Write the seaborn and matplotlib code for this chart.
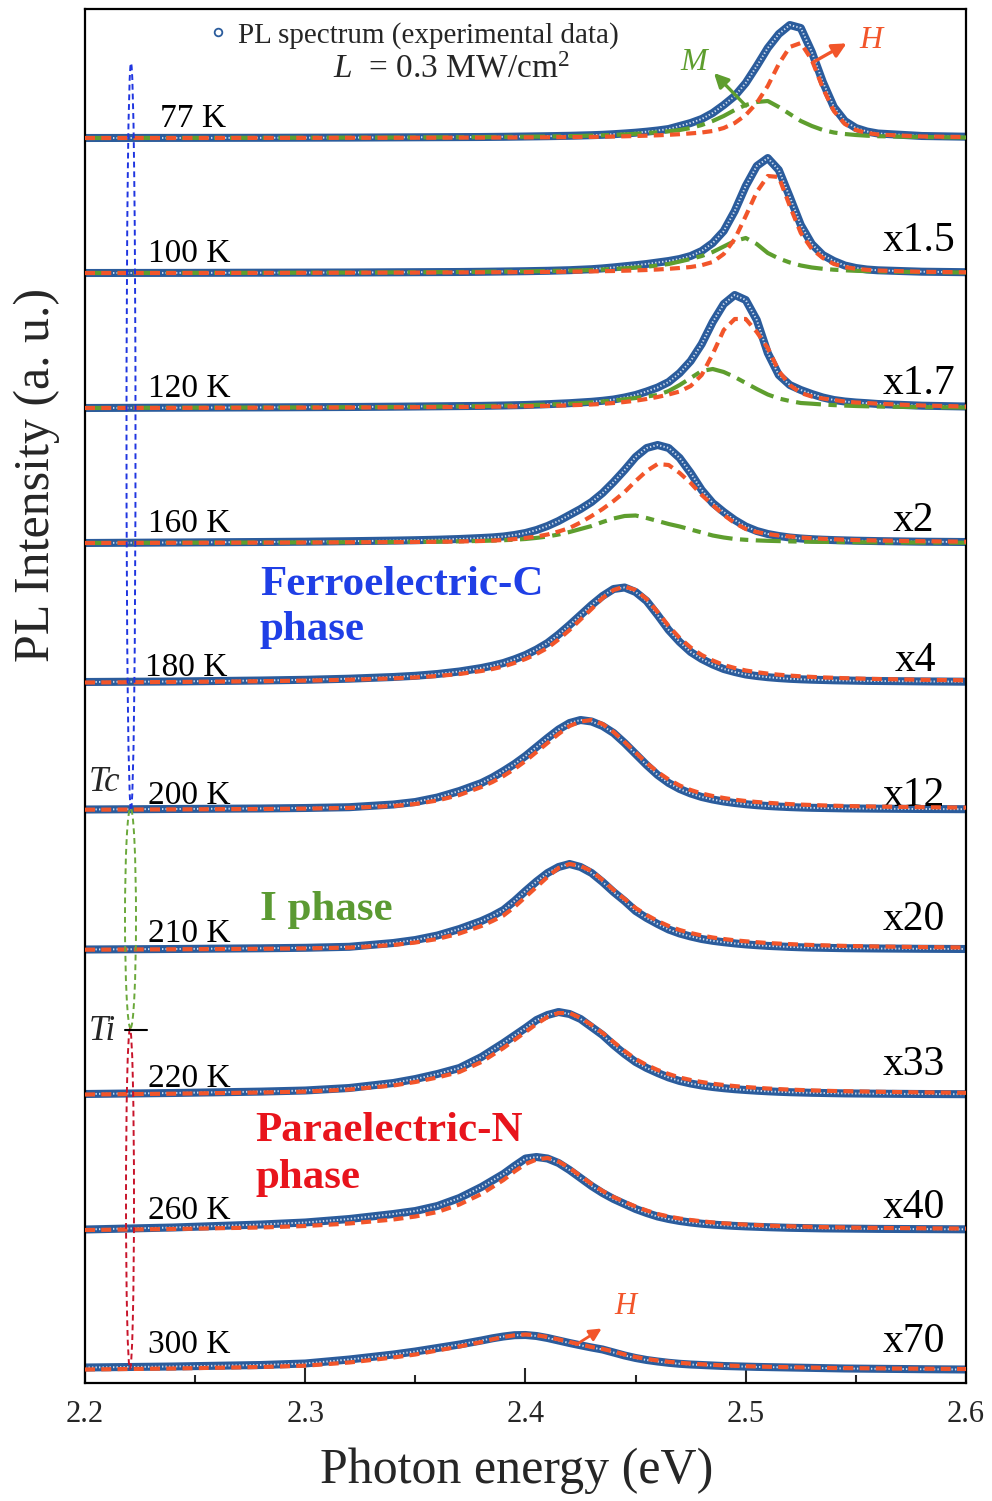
import numpy as np
import matplotlib
matplotlib.use("Agg")
import matplotlib.pyplot as plt
import seaborn as sns
from matplotlib.patches import Ellipse

# ---------------- data ----------------
energy = [2.20, 2.24, 2.28, 2.30, 2.32, 2.34, 2.35, 2.36, 2.37, 2.38,
          2.385, 2.39, 2.395, 2.40, 2.405, 2.41, 2.415, 2.42, 2.425, 2.43,
          2.435, 2.44, 2.445, 2.45, 2.455, 2.46, 2.465, 2.47, 2.475, 2.48, 2.485, 2.49, 2.495,
          2.50, 2.505, 2.51, 2.515, 2.52, 2.525, 2.53, 2.535, 2.54, 2.545, 2.55, 2.555, 2.56,
          2.58, 2.60]

temperatures = ["77 K", "100 K", "120 K", "160 K", "180 K", "200 K", "210 K", "220 K", "260 K", "300 K"]
scale_labels = ["", "x1.5", "x1.7", "x2", "x4", "x12", "x20", "x33", "x40", "x70"]

pl_77 = [0, 0.1, 0.2, 0.3, 0.4, 0.6, 0.7, 0.8, 0.9, 1.0,
         1.1, 1.2, 1.35, 1.5, 1.65, 1.8, 2.0, 2.2, 2.5, 2.8,
         3.2, 3.8, 4.5, 5.3, 6.3, 7.5, 9, 12, 15, 19, 25, 33, 42, 55, 72, 90, 104, 113, 110, 86,
         56, 31, 17, 10, 6.5, 4.5,
         2, 1.3]
h_77 = [0, 0, 0.1, 0.1, 0.2, 0.2, 0.3, 0.3, 0.4, 0.4,
        0.45, 0.5, 0.55, 0.6, 0.65, 0.7, 0.8, 0.9, 1.0, 1.1,
        1.3, 1.5, 1.7, 2.0, 2.3, 2.7, 3.2, 3.8, 4.6, 5.5, 7, 10, 15, 23, 35, 52, 74, 91, 95, 78,
        50, 27, 14, 8, 5, 3.5,
        1.5, 1]
m_77 = [0, 0.1, 0.2, 0.3, 0.4, 0.5, 0.6, 0.7, 0.8, 0.9,
        1.0, 1.1, 1.2, 1.3, 1.4, 1.5, 1.7, 1.9, 2.1, 2.4,
        2.7, 3.1, 3.6, 4.2, 4.9, 5.7, 6.7, 8, 10, 13, 17, 22, 28, 33, 36, 37, 31, 24, 17, 12,
        8, 5.5, 4, 3, 2.3, 1.8,
        1, 0.5]

pl_100 = [0, 0.1, 0.3, 0.4, 0.5, 0.7, 0.8, 0.9, 1.0, 1.2,
          1.35, 1.5, 1.65, 1.8, 2.0, 2.2, 2.5, 2.8, 3.3, 3.8,
          4.6, 5.6, 6.7, 7.8, 9, 10.5, 12, 14, 17, 22, 30, 42, 62, 87, 107, 115, 103, 76, 48, 29,
          18, 12, 7.5, 5, 3.5, 2.7,
          1.3, 0.8]
h_100 = [0, 0, 0.1, 0.2, 0.3, 0.4, 0.4, 0.5, 0.6, 0.7,
         0.75, 0.8, 0.85, 0.9, 1.0, 1.1, 1.2, 1.3, 1.45, 1.6,
         1.8, 2.0, 2.3, 2.6, 3.0, 3.5, 4.2, 5, 6, 7.8, 11, 19, 34, 57, 81, 97, 96, 67, 40, 24,
         15, 9, 6, 4.2, 3.2, 2.5,
         1.2, 0.7]
m_100 = [0, 0.1, 0.2, 0.3, 0.4, 0.6, 0.7, 0.9, 1.0, 1.2,
         1.3, 1.4, 1.5, 1.6, 1.8, 2.0, 2.2, 2.4, 2.7, 3.0,
         3.5, 4.0, 4.7, 5.4, 6.3, 7.5, 9, 11.5, 14, 17, 21, 26.5, 32, 35, 29, 20, 14.5, 10.5, 7.5, 5.5,
         4.2, 3.3, 2.7, 2.2, 1.9, 1.6,
         0.9, 0.5]

pl_120 = [0, 0.3, 0.6, 0.8, 1.0, 1.3, 1.5, 1.7, 1.9, 2.1,
          2.3, 2.5, 2.75, 3.0, 3.4, 3.8, 4.3, 4.8, 5.5, 6.2,
          7.2, 8.5, 10.5, 13, 16.5, 20.5, 26, 35, 47, 64, 86, 104, 113, 108, 88, 55, 33, 23, 18, 14,
          10.5, 8, 6.5, 5.5, 4.8, 4,
          2.3, 1.5]
h_120 = [0, 0.1, 0.3, 0.4, 0.5, 0.7, 0.8, 0.9, 1.0, 1.2,
         1.3, 1.4, 1.55, 1.7, 1.9, 2.1, 2.4, 2.7, 3.1, 3.5,
         4.1, 5, 6, 7.3, 9, 11, 13.5, 16.5, 22, 33, 54, 78, 89, 89, 76, 60, 37, 23, 15, 11.5,
         9.5, 8, 6.5, 5.5, 5, 4.3,
         2.5, 1.5]
m_120 = [0, 0.3, 0.5, 0.6, 0.8, 1.0, 1.2, 1.4, 1.6, 1.9,
         2.1, 2.3, 2.55, 2.8, 3.1, 3.4, 3.8, 4.3, 4.9, 5.6,
         6.5, 7.5, 8.7, 10, 11.5, 13, 17, 23, 30, 37, 39, 36, 31, 25, 19, 13.5, 9.5, 7, 5, 4.3,
         3.5, 2.9, 2.4, 2, 1.7, 1.5,
         0.9, 0.5]

pl_160 = [0, 0.5, 1.0, 1.3, 1.8, 2.4, 2.8, 3.3, 4.0, 5.0,
          5.6, 6.5, 8, 10, 13, 17, 22, 28, 34, 41,
          50, 61, 73, 86, 95, 98, 95, 85, 70, 53, 40, 31, 23, 16.5, 12, 9, 7, 5.5, 4.5, 3.8,
          3.3, 2.9, 2.6, 2.3, 2.1, 1.9,
          1.3, 1.0]
h_160 = [0, 0.2, 0.4, 0.5, 0.7, 0.9, 1.0, 1.2, 1.5, 2.0,
         2.4, 3.0, 3.9, 5, 6.5, 8.5, 11.5, 15, 20.5, 27,
         34, 42, 51, 62, 72, 79, 78, 70, 60, 48, 38, 28, 20, 14, 11, 9, 7.5, 6.5, 5.5, 4.8,
         4.2, 3.7, 3.3, 3.0, 2.7, 2.5,
         1.8, 1.3]
m_160 = [0, 0.3, 0.5, 0.6, 0.8, 1.0, 1.2, 1.4, 1.7, 2.1,
         2.4, 2.8, 3.3, 4, 5.1, 6.5, 8.5, 11, 14, 17,
         21, 24.5, 27, 27.5, 25, 22, 19, 16.5, 13.5, 10.5, 7.5, 5.5, 4, 3.2, 2.6, 2.2, 1.9, 1.6, 1.4, 1.2,
         1.1, 1.0, 0.9, 0.8, 0.7, 0.6,
         0.4, 0.3]

pl_180 = [1, 1.5, 2.5, 3.2, 4.3, 6, 7.2, 9, 11.5, 15,
          17.3, 20, 23.7, 28, 33.5, 40, 48.5, 58, 68, 78,
          87, 94, 95.5, 91, 82, 68, 53, 41, 31, 24, 18.5, 14, 11, 8.5, 7, 5.8, 4.9, 4.2, 3.7, 3.3,
          3, 2.7, 2.5, 2.3, 2.1, 2,
          1.6, 1.3]
fit_180 = [0.5, 1, 1.8, 2.4, 3.3, 4.6, 5.6, 7, 9, 12,
           14, 16.5, 20, 24, 29, 35, 43.5, 53, 63.5, 74,
           85, 93, 96.5, 93, 84, 71, 57, 45, 35.5, 28, 22.5, 18, 15, 12.5, 10.8, 9.4, 8.3, 7.4, 6.7, 6.1,
           5.6, 5.2, 4.8, 4.5, 4.2, 4,
           3.2, 2.7]

pl_200 = [0.5, 1, 1.5, 2, 2.8, 5.5, 8, 12.5, 19, 27,
          32.5, 39, 46, 54, 63, 72, 80.5, 87, 90, 88.5,
          84, 77, 67, 56, 45, 35, 27, 21, 16.5, 13, 10.5, 8.5, 7, 5.8, 4.8, 4, 3.4, 2.9, 2.5, 2.2,
          2, 1.8, 1.6, 1.5, 1.4, 1.3,
          1, 0.8]
fit_200 = [0.3, 0.6, 1, 1.4, 2.1, 4, 6, 9.5, 15, 23,
           28, 34, 41, 49, 58, 67, 76, 84, 88.5, 90,
           86, 78, 68, 57.5, 47, 38, 30.5, 24.5, 20, 16.5, 14, 12, 10.3, 9, 8, 7.2, 6.5, 5.9, 5.4, 5,
           4.6, 4.3, 4, 3.8, 3.6, 3.4,
           2.8, 2.4]

pl_210 = [0.5, 1, 1.7, 2.2, 3.2, 7, 10, 14.5, 21, 29,
          34, 40, 49, 59, 68.5, 77, 83, 86, 83, 77,
          68, 58, 49, 39, 32, 26, 20.5, 16.5, 13.5, 11, 9.2, 7.8, 6.6, 5.6, 4.8, 4.1, 3.6, 3.1, 2.7, 2.4,
          2.2, 2, 1.8, 1.7, 1.6, 1.5,
          1.2, 1]
fit_210 = [0.3, 0.7, 1.2, 1.6, 2.4, 5, 7.5, 11, 16.5, 24,
           29, 34.5, 43, 53, 63, 73, 82, 86, 84, 79,
           70, 60, 51, 42, 35, 29, 24, 20, 17, 14.5, 12.5, 11, 9.7, 8.7, 7.8, 7, 6.4, 5.9, 5.4, 5,
           4.7, 4.4, 4.1, 3.9, 3.7, 3.5,
           2.9, 2.5]

pl_220 = [1, 2, 3.4, 4.5, 7, 12, 16, 21, 27, 38,
          45, 52, 59.5, 67, 75, 80, 83, 81, 76, 68,
          60, 50, 41, 33, 27, 22, 17.5, 14, 11.5, 9.5, 8, 6.8, 5.8, 5, 4.3, 3.7, 3.2, 2.8, 2.5, 2.2,
          2, 1.8, 1.6, 1.5, 1.4, 1.3,
          1, 0.8]
fit_220 = [0.5, 1.3, 2.5, 3.4, 5.5, 9.5, 13, 17.5, 23, 33,
           40, 47, 55, 63, 71, 78, 82, 82, 77, 70,
           62, 53, 44, 36, 30, 25, 21, 17.5, 15, 13, 11.3, 10, 8.9, 8, 7.2, 6.5, 5.9, 5.4, 5, 4.6,
           4.3, 4, 3.8, 3.6, 3.4, 3.2,
           2.6, 2.2]

pl_260 = [0.5, 2.5, 5.5, 7.5, 11, 16, 19, 24, 32, 43,
          49.5, 56, 64, 71.5, 73, 71.5, 67, 60, 52, 44,
          37, 31, 26, 21, 17, 13.5, 11, 9, 7.5, 6.3, 5.4, 4.7, 4.1, 3.6, 3.2, 2.8, 2.5, 2.2, 2, 1.8,
          1.6, 1.5, 1.4, 1.3, 1.2, 1.1,
          0.9, 0.7]
fit_260 = [0, 1, 2.5, 4, 6.5, 10.5, 13.5, 18, 25.5, 36,
           43, 50, 58.5, 66, 70.5, 72, 68.5, 62, 54, 46,
           39, 33, 28, 23.5, 19.5, 16, 13.5, 11.5, 10, 8.7, 7.6, 6.7, 6, 5.4, 4.9, 4.4, 4, 3.7, 3.4, 3.1,
           2.9, 2.7, 2.5, 2.3, 2.2, 2.1,
           1.7, 1.4]

pl_300 = [2.5, 3.5, 5, 6.5, 10.5, 15.5, 18.5, 22, 25.5, 29.5,
          31.7, 33.5, 34.8, 35, 34, 32, 29.5, 27, 24.7, 22.5,
          20.5, 17.5, 14.5, 12, 10, 8.5, 7.2, 6.2, 5.5, 5, 4.5, 4, 3.7, 3.4, 3.1, 2.9, 2.7, 2.5, 2.3, 2.1,
          1.9, 1.7, 1.5, 1.4, 1.3, 1.2,
          0.8, 0.5]
fit_300 = [0.5, 1.5, 3, 4.3, 7.5, 12.5, 15.5, 19.5, 23.5, 28,
           30.7, 33, 34.7, 35.5, 34.8, 33, 30.6, 28, 25.5, 23,
           21, 18.5, 15.5, 13, 11, 9.5, 8.2, 7.2, 6.4, 5.7, 5.1, 4.6, 4.2, 3.8, 3.5, 3.2, 3, 2.8, 2.6, 2.4,
           2.2, 2, 1.9, 1.8, 1.7, 1.6,
           1.3, 1]

spectra = [pl_77, pl_100, pl_120, pl_160, pl_180, pl_200, pl_210, pl_220, pl_260, pl_300]
fits_h = [h_77, h_100, h_120, h_160, fit_180, fit_200, fit_210, fit_220, fit_260, fit_300]
fits_m = [m_77, m_100, m_120, m_160, None, None, None, None, None, None]

for arr in spectra + fits_h + [m for m in fits_m if m is not None]:
    assert len(arr) == len(energy), len(arr)

# ---------------- styling / layout ----------------
sns.set_theme(style="ticks")
plt.rcParams.update({
    "font.family": ["Liberation Serif", "DejaVu Serif"],
    "mathtext.fontset": "custom",
    "mathtext.rm": "Liberation Serif",
    "mathtext.it": "Liberation Serif:italic",
    "mathtext.bf": "Liberation Serif:bold",
    "axes.linewidth": 1.6,
    "axes.edgecolor": "black",
})

BLUE = "#2b5c9c"
BLUE_IN = "#cfdcee"
RED = "#f2552a"
GREEN = "#5e9e2e"

W, H = 992, 1501
fig = plt.figure(figsize=(W / 100, H / 100), dpi=100)
ax = fig.add_axes([85 / W, 1 - 1383 / H, 881 / W, 1374 / H])
ax.set_xlim(2.2, 2.6)
ax.set_ylim(0, 1374)


def px(x):
    return 2.2 + (x - 85) * 0.4 / 881


def py(y):
    return 1383 - y


baseline_rows = [138, 273, 408, 543, 683, 810, 950, 1095, 1230, 1370]
E = np.array(energy)

for i in range(len(spectra)):
    off = py(baseline_rows[i])
    y = np.array(spectra[i], dtype=float) + off
    sns.lineplot(x=E, y=y, ax=ax, color=BLUE, linewidth=5.8, estimator=None, zorder=2,
                 solid_capstyle="butt", solid_joinstyle="round")
    sns.lineplot(x=E, y=y, ax=ax, color=BLUE_IN, linewidth=1.4, estimator=None, zorder=2.1,
                 linestyle=(0, (0.7, 1.1)))
    if fits_m[i] is not None:
        sns.lineplot(x=E, y=np.array(fits_m[i], dtype=float) + off, ax=ax, color=GREEN,
                     linewidth=3.0, estimator=None, zorder=3, linestyle=(0, (6, 1.8, 2, 1.8)))
    sns.lineplot(x=E, y=np.array(fits_h[i], dtype=float) + off, ax=ax, color=RED,
                 linewidth=3.0, estimator=None, zorder=4, linestyle=(0, (2.4, 1.5)))

# temperature labels
temp_pos = [(160, 127), (148, 262), (148, 397), (148, 532), (145, 676),
            (148, 804), (148, 942), (148, 1087), (148, 1219), (148, 1353)]
for t, (x, yb) in zip(temperatures, temp_pos):
    ax.text(px(x), py(yb), t, fontsize=24, ha="left", va="baseline", color="black", zorder=6)

# scale factor labels
scale_pos = [None, (883, 251), (883, 394), (893, 531), (895, 671), (883, 806),
             (883, 930), (883, 1075), (883, 1218), (883, 1352)]
for s, pos in zip(scale_labels, scale_pos):
    if s and pos:
        ax.text(px(pos[0]), py(pos[1]), s, fontsize=30, ha="left", va="baseline", color="black")

# legend-like header
ax.plot([px(218)], [py(32)], marker="o", ms=5.5, mfc="none", mec=BLUE, mew=1.3,
        linestyle="none", zorder=6)
ax.text(px(238), py(43), "PL spectrum (experimental data)", fontsize=21, ha="left",
        va="baseline")
ax.text(px(333), py(78), r"$L$  = 0.3 MW/cm$^{2}$", fontsize=24, ha="left", va="baseline")

# phase labels
ax.text(px(260), py(595), "Ferroelectric-C", fontsize=31, fontweight="bold", color="#1f3fe6",
        ha="left", va="baseline")
ax.text(px(260), py(640), "phase", fontsize=31, fontweight="bold", color="#1f3fe6",
        ha="left", va="baseline")
ax.text(px(260), py(920), "I phase", fontsize=31, fontweight="bold", color="#5b9a32",
        ha="left", va="baseline")
ax.text(px(255), py(1141), "Paraelectric-N", fontsize=31, fontweight="bold", color="#e8141c",
        ha="left", va="baseline")
ax.text(px(255), py(1188), "phase", fontsize=31, fontweight="bold", color="#e8141c",
        ha="left", va="baseline")

# transition markers
ax.text(px(89), py(791), "Tc", fontsize=25, fontstyle="italic", ha="left", va="baseline")
ax.text(px(89), py(1040), "Ti", fontsize=25, fontstyle="italic", ha="left", va="baseline")
ax.plot([px(125), px(147)], [py(1030), py(1030)], color="black", lw=1.5, zorder=6)

ell_specs = [((131, 436), 9, 746, "#1f35e0"),
             ((130.5, 918), 11, 220, "#6aa83a"),
             ((130, 1199), 8, 340, "#c8142a")]
for (cx, cy), w, h, col in ell_specs:
    e = Ellipse((px(cx), py(cy)), width=w * 0.4 / 881, height=h, fill=False, edgecolor=col,
                lw=1.4, linestyle=(0, (3, 2)), zorder=5)
    ax.add_patch(e)

# component annotations
ax.annotate("", xy=(px(712), py(71)), xytext=(px(748), py(108)),
            arrowprops=dict(arrowstyle="-|>,head_length=0.7,head_width=0.35", color=GREEN, lw=2.4),
            zorder=7)
ax.text(px(694), py(63), "M", fontsize=23, fontstyle="italic", color=GREEN, ha="center",
        va="center")
ax.annotate("", xy=(px(849), py(42)), xytext=(px(810), py(64)),
            arrowprops=dict(arrowstyle="-|>,head_length=0.7,head_width=0.35", color=RED, lw=2.4),
            zorder=7)
ax.text(px(871), py(40), "H", fontsize=23, fontstyle="italic", color=RED, ha="center",
        va="center")
ax.annotate("", xy=(px(604), py(1327)), xytext=(px(574), py(1346)),
            arrowprops=dict(arrowstyle="-|>,head_length=0.6,head_width=0.3", color=RED, lw=2.0),
            zorder=7)
ax.text(px(625), py(1307), "H", fontsize=22, fontstyle="italic", color=RED, ha="center",
        va="center")

# axes
ax.set_xticks([2.2, 2.3, 2.4, 2.5, 2.6])
ax.set_xticklabels(["2.2", "2.3", "2.4", "2.5", "2.6"])
ax.set_xticks([2.25, 2.35, 2.45, 2.55], minor=True)
ax.set_yticks([])
ax.tick_params(axis="x", which="major", direction="in", length=11, width=1.5, labelsize=22,
               pad=12, top=False)
ax.tick_params(axis="x", which="minor", direction="in", length=5.5, width=1.5, top=False)
for sp in ax.spines.values():
    sp.set_visible(True)
    sp.set_linewidth(1.6)
    sp.set_color("black")

ax.set_xlabel("Photon energy (eV)", fontsize=36)
ax.xaxis.set_label_coords(0.49, -0.047)
ax.set_ylabel("PL Intensity (a. u.)", fontsize=36)
ax.yaxis.set_label_coords(-0.028, 0.661)

fig.savefig("out.png", dpi=100)
